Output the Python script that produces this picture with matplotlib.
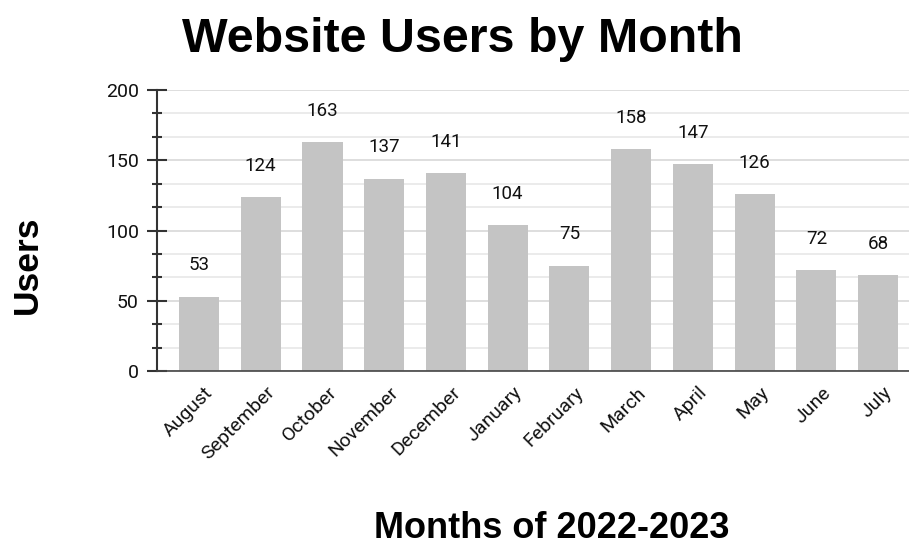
import matplotlib
matplotlib.use('Agg')
import matplotlib.pyplot as plt
import matplotlib.transforms as mtransforms
from matplotlib.ticker import MultipleLocator
import numpy as np

months = ['August', 'September', 'October', 'November', 'December', 'January',
          'February', 'March', 'April', 'May', 'June', 'July']
users = [53, 124, 163, 137, 141, 104, 75, 158, 147, 126, 72, 68]
yticks = [0, 50, 100, 150, 200]

fig = plt.figure(figsize=(9.09, 5.45), dpi=100)
ax = fig.add_axes([157/909, 1-371/545, 1-157/909, (371-90)/545])

x = np.arange(len(months))
ax.bar(x, users, width=0.65, color='#c4c4c4', zorder=2)

# value labels above each bar
for xi, v in zip(x, users):
    ax.annotate(str(v), (xi, v), xytext=(0, 22.5), textcoords='offset points',
                ha='center', va='center', fontsize=13.5, family='Roboto', color='#111111')

ax.set_xlim(-0.68, 11.5)
ax.set_ylim(0, 200)
ax.set_yticks(yticks)
ax.yaxis.set_minor_locator(MultipleLocator(50/3))
ax.grid(which='major', axis='y', color='#d8d8d8', lw=1.2, zorder=0)
ax.grid(which='minor', axis='y', color='#e8e8e8', lw=1.2, zorder=0)

for s in ['top', 'right']:
    ax.spines[s].set_visible(False)
ax.spines['left'].set_color('#333333')
ax.spines['left'].set_linewidth(1.5)
ax.spines['bottom'].set_color('#444444')
ax.spines['bottom'].set_linewidth(1.2)
ax.spines['bottom'].set_zorder(3)

ax.tick_params(axis='y', which='major', direction='inout', length=14, width=1.5,
               color='#333333', pad=6, labelsize=14, labelcolor='#111111')
ax.tick_params(axis='y', which='minor', direction='inout', length=7, width=1.5,
               color='#333333')
ax.tick_params(axis='x', length=0, pad=9)
for lab in ax.get_yticklabels():
    lab.set_family('Roboto')

ax.set_xticks(x)
ax.set_xticklabels(months, rotation=45, ha='right', rotation_mode='anchor',
                   fontsize=14, family='Roboto', color='#111111')
shift = mtransforms.ScaledTranslation(5/100, 0, fig.dpi_scale_trans)
for lab in ax.get_xticklabels():
    lab.set_transform(lab.get_transform() + shift)

fig.text(0.509, 1-52/545, 'Website Users by Month', ha='center', va='baseline',
         fontsize=34.8, fontweight='bold', family='Liberation Sans')
fig.text(551.5/909, 1-538/545, 'Months of 2022-2023', ha='center', va='baseline',
         fontsize=26, fontweight='bold', family='Liberation Sans')
fig.text(27/909, 1-265/545, 'Users', ha='center', va='center', rotation=90,
         fontsize=25.5, fontweight='bold', family='Liberation Sans')

fig.savefig('out.png', dpi=100)
